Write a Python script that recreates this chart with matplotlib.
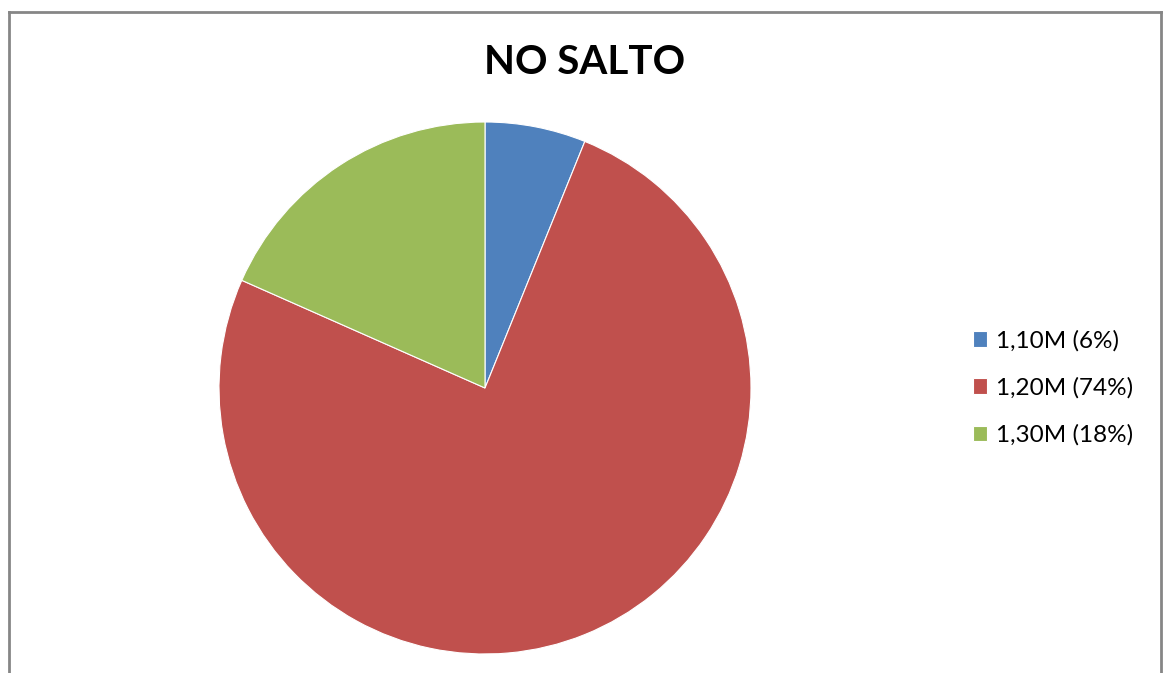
import matplotlib

matplotlib.use("Agg")
import matplotlib.pyplot as plt  # noqa: E402
from matplotlib.lines import Line2D  # noqa: E402

labels = ["1,10M (6%)", "1,20M (74%)", "1,30M (18%)"]
values = [6, 74, 18]
colors = ["#4F81BD", "#C0504D", "#9BBB59"]

W, H = 1169, 673
plt.rcParams["font.family"] = ["Lato", "DejaVu Sans"]

fig = plt.figure(figsize=(W / 100, H / 100), dpi=100)

# chart frame: open at the bottom
frame = dict(color="#868686", lw=2, transform=fig.transFigure)
x0, x1, y_top = 9 / W, 1161 / W, 1 - 12 / H
fig.add_artist(Line2D([x0, x0], [-0.01, y_top], **frame))
fig.add_artist(Line2D([x0, x1], [y_top, y_top], **frame))
fig.add_artist(Line2D([x1, x1], [y_top, -0.01], **frame))

# pie axes placed in pixels
cx, cy, r = 485, 388, 266
ax = fig.add_axes([(cx - r) / W, (H - cy - r) / H, 2 * r / W, 2 * r / H])
wedges, _ = ax.pie(values, colors=colors, startangle=90, counterclock=False,
                   radius=1, wedgeprops=dict(edgecolor="white", linewidth=0.8))
ax.set_xlim(-1, 1)
ax.set_ylim(-1, 1)
ax.set_aspect("equal")
ax.axis("off")

fig.text(585 / W, 1 - 62 / H, "NO SALTO", ha="center", va="center",
         fontsize=29, fontweight="bold")

fig.legend(wedges, labels, loc="center left", bbox_to_anchor=(951 / W, 1 - 388 / H),
           frameon=False, fontsize=17.5, handlelength=0.6, handleheight=0.6,
           handletextpad=0.35, labelspacing=1.05)

fig.savefig("out.png", dpi=100)
plt.close(fig)
